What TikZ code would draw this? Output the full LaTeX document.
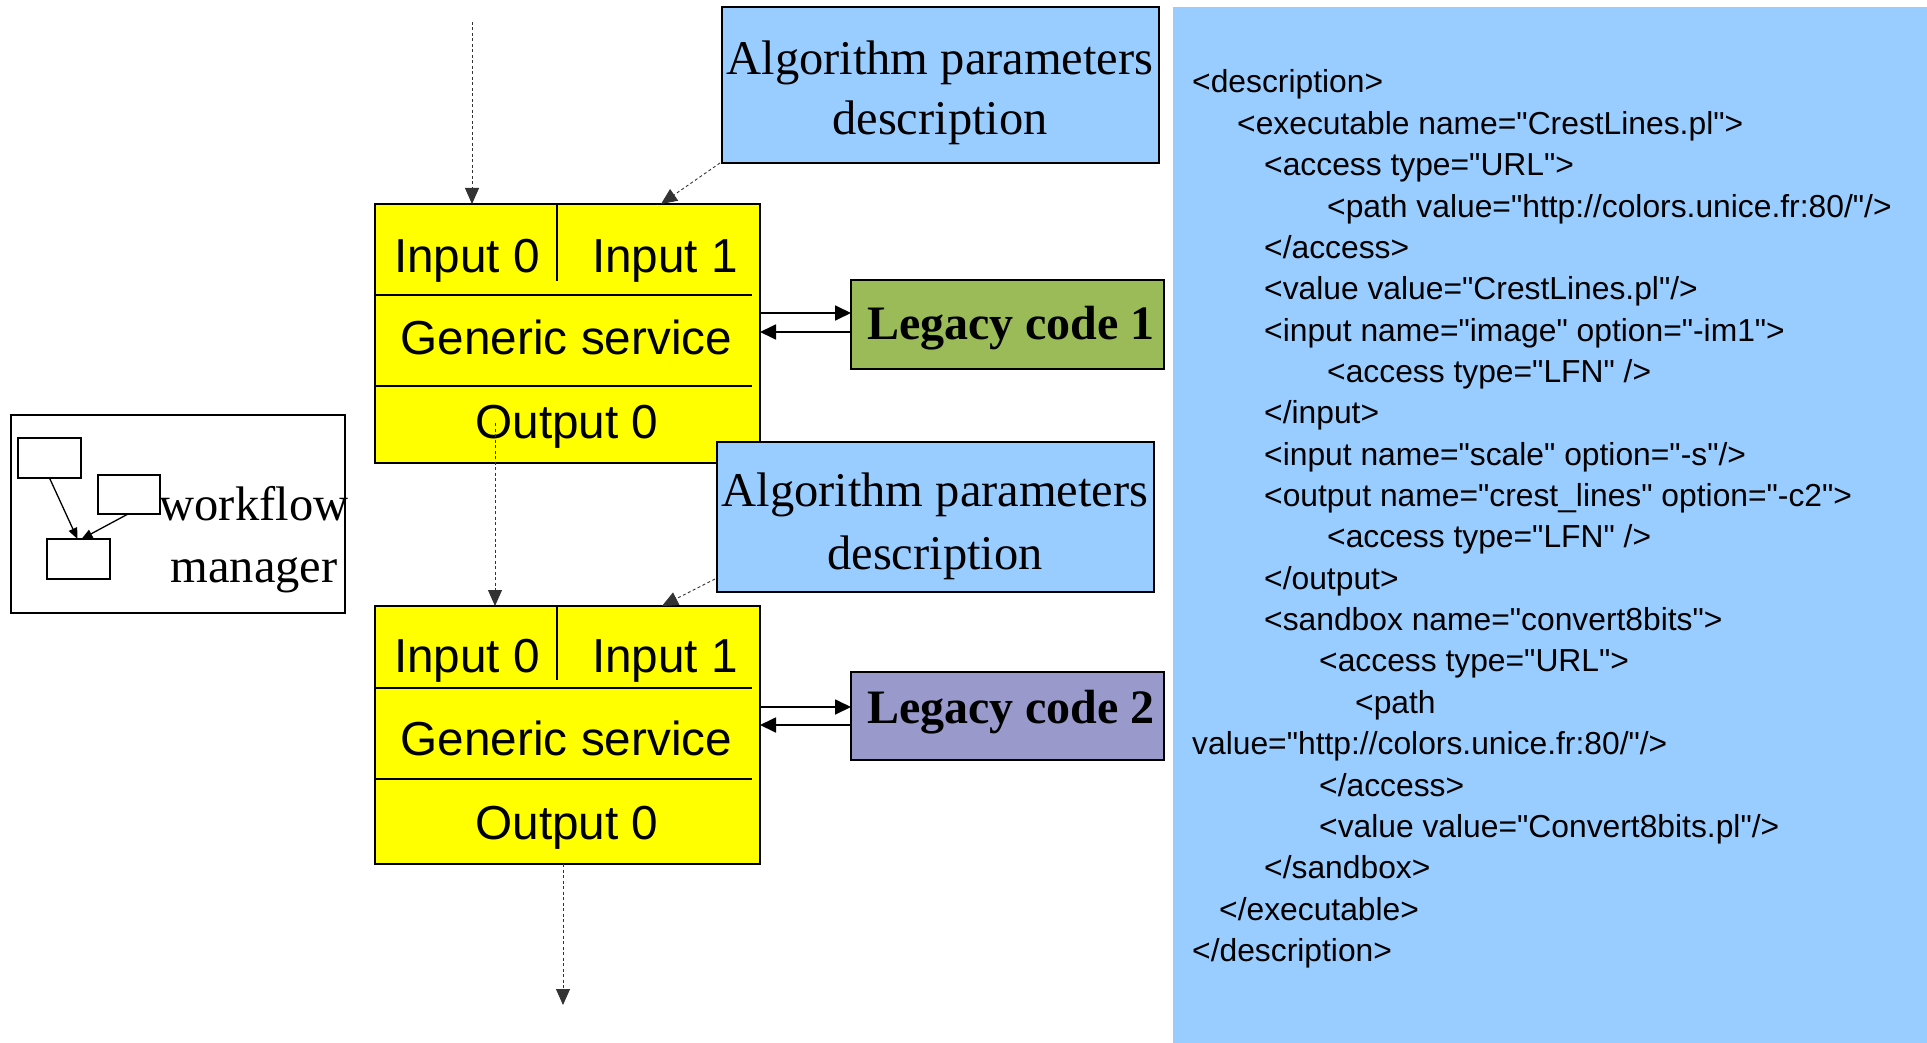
\documentclass[tikz,border=0pt]{standalone}
\usepackage{fontspec}
\setmainfont{Liberation Serif}
\newfontfamily\arialfont{Liberation Sans}
\usetikzlibrary{arrows.meta}
\definecolor{ablue}{HTML}{99CCFF}
\definecolor{agreen}{HTML}{9BBB59}
\definecolor{apurple}{HTML}{9999CC}
\definecolor{ayellow}{HTML}{FFFF00}
\begin{document}
\begin{tikzpicture}[x=1pt,y=-1pt,
  boxbase/.style={draw=black, inner sep=0pt, outer sep=0pt},
  bluebox/.style={boxbase, fill=ablue, line width=2pt},
  ybox/.style={boxbase, fill=ayellow, line width=1.5pt},
  legbox/.style={boxbase, line width=2pt},
  wfbox/.style={boxbase, line width=1.5pt},
  smallbox/.style={boxbase, line width=1.3pt},
  divline/.style={line width=1.2pt},
  serif/.style={font=\fontsize{48.5pt}{58pt}\selectfont, inner sep=0pt, anchor=base},
  legtext/.style={font=\fontsize{48pt}{58pt}\selectfont\bfseries, inner sep=0pt, anchor=base},
  sans/.style={font=\arialfont\fontsize{47.7pt}{56pt}\selectfont, inner sep=0pt, anchor=base},
  xml/.style={font=\arialfont\fontsize{31.8pt}{38pt}\selectfont, inner sep=0pt, anchor=base west},
  dotarrow/.style={draw=black!80, line width=0.9pt, dash pattern=on 3pt off 2.5pt, -{Triangle[length=16pt,width=14pt]}},
  solidarrow/.style={line width=1.8pt, -{Triangle[length=16pt,width=15pt]}},
  smallarrow/.style={line width=1.3pt, -{Triangle[length=11pt,width=9pt]}}
]
\useasboundingbox (0,0) rectangle (1927,1043);
\fill[white] (0,0) rectangle (1927,1043);

% XML panel
\fill[ablue] (1173,7) rectangle (1927,1043);
\node[xml] (x1) at (1192,93) {<description>};
\node[xml] (x2) at (1237,134.4) {<executable name="CrestLines.pl">};
\node[xml] (x3) at (1264,175.7) {<access type="URL">};
\node[xml] (x4) at (1327,217.1) {<path value="http://colors.unice.fr:80/"/>};
\node[xml] (x5) at (1264,258.4) {</access>};
\node[xml] (x6) at (1264,299.8) {<value value="CrestLines.pl"/>};
\node[xml] (x7) at (1264,341.1) {<input name="image" option="-im1">};
\node[xml] (x8) at (1327,382.5) {<access type="LFN" />};
\node[xml] (x9) at (1264,423.8) {</input>};
\node[xml] (x10) at (1264,465.2) {<input name="scale" option="-s"/>};
\node[xml] (x11) at (1264,506.5) {<output name="crest\_lines" option="-c2">};
\node[xml] (x12) at (1327,547.9) {<access type="LFN" />};
\node[xml] (x13) at (1264,589.2) {</output>};
\node[xml] (x14) at (1264,630.6) {<sandbox name="convert8bits">};
\node[xml] (x15) at (1319,671.9) {<access type="URL">};
\node[xml] (x16) at (1355,713.3) {<path};
\node[xml] (x17) at (1192,754.6) {value="http://colors.unice.fr:80/"/>};
\node[xml] (x18) at (1319,796) {</access>};
\node[xml] (x19) at (1319,837.3) {<value value="Convert8bits.pl"/>};
\node[xml] (x20) at (1264,878.7) {</sandbox>};
\node[xml] (x21) at (1219,920) {</executable>};
\node[xml] (x22) at (1192,961.4) {</description>};

% workflow manager
\node[wfbox, minimum width=334pt, minimum height=198pt] (wf) at (178,514) {};
\node[smallbox, minimum width=63pt, minimum height=40pt] (w1) at (49.5,458) {};
\node[smallbox, minimum width=62pt, minimum height=39pt] (w2) at (129,494.5) {};
\node[smallbox, minimum width=63pt, minimum height=40pt] (w3) at (78.5,559) {};
\draw[smallarrow] (w1.south) -- ([xshift=-1pt]w3.north);
\draw[smallarrow] ([xshift=-1pt]w2.south) -- ([xshift=3pt]w3.north);
\node[serif] (wft1) at (254,520) {workflow};
\node[serif] (wft2) at (254,582) {manager};

% first service
\node[bluebox, minimum width=437pt, minimum height=156pt] (b1) at (940.5,85) {};
\node[serif] (b1t1) at (940,75) {Algorithm parameters};
\node[serif] (b1t2) at (940,135) {description};
\node[ybox, minimum width=385pt, minimum height=259pt] (y1) at (567.5,333.5) {};
\draw[divline] (557,204) -- (557,281);
\draw[divline] (375,295) -- (752,295);
\draw[divline] (375,386) -- (752,386);
\node[sans] (y1i0) at (467,272) {Input 0};
\node[sans] (y1i1) at (665,272) {Input 1};
\node[sans] (y1g) at (566.5,354) {Generic service};
\node[sans] (y1o) at (567,438) {Output 0};
\node[legbox, fill=agreen, minimum width=313pt, minimum height=89pt] (l1) at (1007.5,324.5) {};
\node[legtext] (l1t) at (1011,339) {Legacy code 1};

% second service
\node[bluebox, minimum width=437pt, minimum height=150pt] (b2) at (935.5,517) {};
\node[serif] (b2t1) at (935,506) {Algorithm parameters};
\node[serif] (b2t2) at (935,569) {description};
\node[ybox, minimum width=385pt, minimum height=258pt] (y2) at (567.5,735) {};
\draw[divline] (557,606) -- (557,680);
\draw[divline] (375,688) -- (752,688);
\draw[divline] (375,779) -- (752,779);
\node[sans] (y2i0) at (467,672) {Input 0};
\node[sans] (y2i1) at (665,672) {Input 1};
\node[sans] (y2g) at (566.5,755) {Generic service};
\node[sans] (y2o) at (567,839) {Output 0};
\node[legbox, fill=apurple, minimum width=313pt, minimum height=88pt] (l2) at (1007.5,716) {};
\node[legtext] (l2t) at (1011,723) {Legacy code 2};

% connectors
\coordinate (src0) at (472,22);
\draw[dotarrow] (src0) -- (src0 |- y1.north);
\coordinate (t1) at (661,204);
\draw[dotarrow] ([xshift=-2pt]b1.south west) -- (t1);
\coordinate (o1) at (495,423);
\draw[dotarrow] (o1) -- (o1 |- y2.north);
\coordinate (t2) at (662,606);
\draw[dotarrow] ([xshift=-2pt,yshift=13pt]b2.south west) -- (t2);
\coordinate (endpt) at (563,1005);
\draw[dotarrow] (endpt |- y2.south) -- (endpt);

\coordinate (a1) at ([yshift=11.5pt]l1.west);
\coordinate (a2) at ([yshift=-7.5pt]l1.west);
\draw[solidarrow] (y1.east |- a1) -- (a1);
\draw[solidarrow] (a2) -- (y1.east |- a2);
\coordinate (a3) at ([yshift=9pt]l2.west);
\coordinate (a4) at ([yshift=-9pt]l2.west);
\draw[solidarrow] (y2.east |- a3) -- (a3);
\draw[solidarrow] (a4) -- (y2.east |- a4);
\end{tikzpicture}
\end{document}
